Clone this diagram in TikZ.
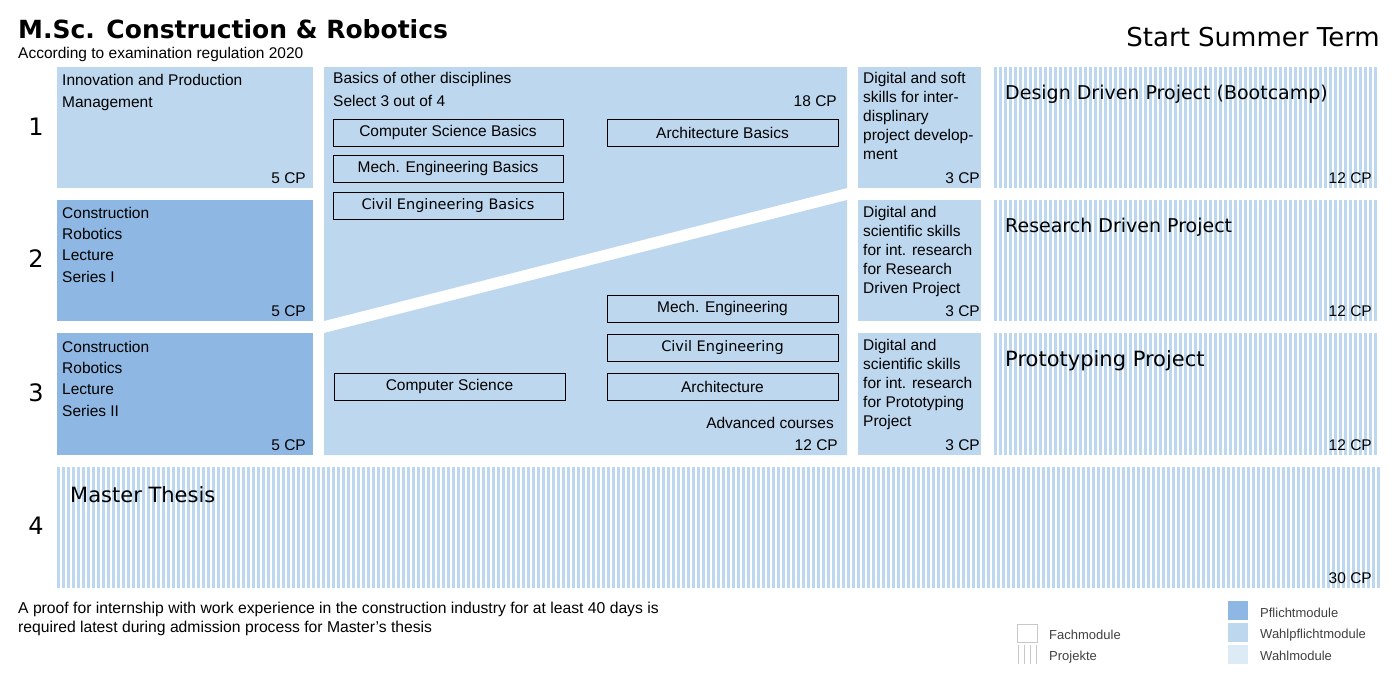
\documentclass[tikz,border=0pt]{standalone}
\usepackage{fontspec}
\setmainfont{Liberation Sans}
\newfontfamily\dvsans{DejaVu Sans}
\definecolor{wpblue}{HTML}{BDD7EE}
\definecolor{pfblue}{HTML}{8EB8E3}
\definecolor{wblue}{HTML}{DDEBF7}
\definecolor{legtext}{HTML}{404040}
\definecolor{leggray}{HTML}{C8C8C8}
\tikzset{
  modtext/.style={anchor=base west, align=left, inner sep=0pt},
  cptext/.style={anchor=base east, inner sep=0pt},
  coursebox/.style={draw, line width=0.9pt, minimum width=230pt, minimum height=27pt, inner sep=0pt},
  projtitle/.style={anchor=base west, inner sep=0pt, font=\dvsans\fontsize{19}{23}\selectfont},
  legtxt/.style={anchor=base west, inner sep=0pt, text=legtext, font=\fontsize{13}{15}\selectfont},
}
\begin{document}
\begin{tikzpicture}[x=1pt,y=-1pt,font=\fontsize{15.5}{19}\selectfont]
    \useasboundingbox (0,0) rectangle (1398,683);

    % header
    \node[anchor=base west, inner sep=0pt, font=\dvsans\bfseries\fontsize{25}{30}\selectfont] (title) at (18,38) {M.Sc. Construction \& Robotics};
    \node[anchor=base west, inner sep=0pt] (subtitle) at (18,58) {According to examination regulation 2020};
    \node[anchor=base east, inner sep=0pt, font=\dvsans\fontsize{26}{30}\selectfont] (term) at (1380,46) {Start Summer Term};

    % semester numbers
    \foreach \n/\y in {1/127,2/259,3/393,4/526}
        \node[font=\dvsans\fontsize{24}{24}\selectfont] (sem\n) at (36,\y) {\n};

    % module boxes
    \fill[wpblue] (57,67) rectangle (313,188);
    \fill[pfblue] (57,200) rectangle (313,321);
    \fill[pfblue] (57,333) rectangle (313,455);
    \fill[wpblue] (324,67) -- (847,67) -- (847,188) -- (324,321) -- cycle;
    \fill[wpblue] (847,200) -- (847,455) -- (324,455) -- (324,333) -- cycle;
    \foreach \ya/\yb in {67/188,200/321,333/455} {
        \fill[wpblue] (858,\ya) rectangle (981,\yb);
        \foreach \x in {994,999,...,1378}
            \fill[wpblue] (\x,\ya) rectangle (\x+3,\yb);
    }
    \foreach \x in {57,62,...,1378}
        \fill[wpblue] (\x,467) rectangle (\x+3,588);

    % semester 1-3, first column (multi-line nodes sit on their last baseline)
    \node[modtext, font=\fontsize{15.5}{22}\selectfont] (ipm) at (62,107) {Innovation and Production\\Management};
    \node[cptext] (ipmcp) at (306,183) {5 CP};
    \node[modtext, font=\fontsize{15.5}{21.3}\selectfont] (lecture1) at (62,282) {Construction\\Robotics\\Lecture\\Series I};
    \node[cptext] (lecture1cp) at (306,316) {5 CP};
    \node[modtext, font=\fontsize{15.5}{21.3}\selectfont] (lecture2) at (62,416) {Construction\\Robotics\\Lecture\\Series II};
    \node[cptext] (lecture2cp) at (306,450) {5 CP};

    % basics and advanced courses
    \node[modtext, font=\fontsize{15.5}{22.5}\selectfont] (basics) at (333,106) {Basics of other disciplines\\Select 3 out of 4};
    \node[cptext] (basicscp) at (837,106) {18 CP};
    \node[coursebox] (csbasics) at (448,132.5) {Computer Science Basics};
    \node[coursebox] (mebasics) at (448,168.5) {Mech. Engineering Basics};
    \node[coursebox, font=\dvsans\fontsize{14.5}{17}\selectfont] (cebasics) at (448,205.5) {Civil Engineering Basics};
    \node[coursebox, minimum width=231pt] (arbasics) at (722.5,132.5) {Architecture Basics};
    \node[coursebox, minimum width=231pt] (me) at (722.5,308.5) {Mech. Engineering};
    \node[coursebox, minimum width=231pt, font=\dvsans\fontsize{14.5}{17}\selectfont] (ce) at (722.5,347.5) {Civil Engineering};
    \node[coursebox, minimum width=231pt] (ar) at (722.5,386.5) {Architecture};
    \node[coursebox, minimum width=231pt] (cs) at (449.5,386.5) {Computer Science};
    \node[cptext] (advanced) at (834,428) {Advanced courses};
    \node[cptext] (advancedcp) at (838,450) {12 CP};

    % skills
    \node[modtext] (skills1) at (863,159.5) {Digital and soft\\skills for inter-\\displinary\\project develop-\\ment};
    \node[cptext] (skills1cp) at (980,183) {3 CP};
    \node[modtext] (skills2) at (863,293.5) {Digital and\\scientific skills\\for int. research\\for Research\\Driven Project};
    \node[cptext] (skills2cp) at (980,316) {3 CP};
    \node[modtext] (skills3) at (863,426.5) {Digital and\\scientific skills\\for int. research\\for Prototyping\\Project};
    \node[cptext] (skills3cp) at (980,450) {3 CP};

    % projects
    \node[projtitle] (ddp) at (1005,99) {Design Driven Project (Bootcamp)};
    \node[cptext] (ddpcp) at (1372,183) {12 CP};
    \node[projtitle] (rdp) at (1005,232) {Research Driven Project};
    \node[cptext] (rdpcp) at (1372,316) {12 CP};
    \node[projtitle, font=\dvsans\fontsize{21}{25}\selectfont] (pp) at (1005,366) {Prototyping Project};
    \node[cptext] (ppcp) at (1372,450) {12 CP};
    \node[projtitle, font=\dvsans\fontsize{21}{25}\selectfont] (thesis) at (70,502) {Master Thesis};
    \node[cptext] (thesiscp) at (1372,583) {30 CP};

    % footnote
    \node[modtext, font=\fontsize{15.7}{19}\selectfont] (note) at (18,632.5) {A proof for internship with work experience in the construction industry for at least 40 days is\\required latest during admission process for Master's thesis};

    % legend
    \draw[leggray, line width=0.6pt] (1017,624) rectangle (1037,642);
    \foreach \x in {1018,1024,1030,1036}
        \draw[leggray, line width=0.6pt] (\x,645) -- (\x,664);
    \node[legtxt] (fach) at (1049,639) {Fachmodule};
    \node[legtxt] (proj) at (1049,660) {Projekte};
    \fill[pfblue] (1228,601) rectangle (1248,620);
    \fill[wpblue] (1228,623) rectangle (1248,642);
    \fill[wblue] (1228,645) rectangle (1248,664);
    \node[legtxt] (pflicht) at (1260,617) {Pflichtmodule};
    \node[legtxt] (wahlpflicht) at (1260,638) {Wahlpflichtmodule};
    \node[legtxt] (wahl) at (1260,660) {Wahlmodule};
\end{tikzpicture}
\end{document}
